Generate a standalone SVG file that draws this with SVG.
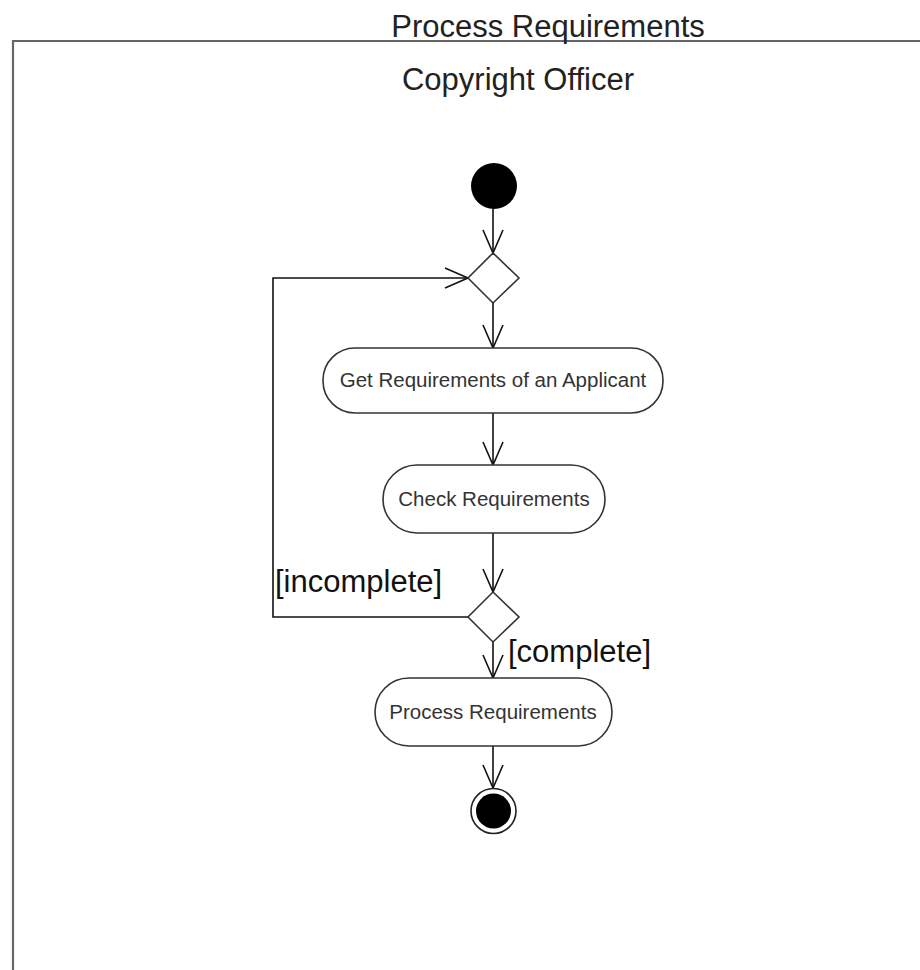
<svg xmlns="http://www.w3.org/2000/svg" width="920" height="970" viewBox="0 0 920 970">
<style>
.t{font-family:"Liberation Sans",Arial,sans-serif;fill:#222}
.big{font-size:31px}
.nt{font-size:20.5px;fill:#333}
.act{fill:#fff;stroke:#333;stroke-width:1.6}
.con{fill:none;stroke:#111;stroke-width:1.6}
</style>
<defs>
<marker id="arr" markerUnits="userSpaceOnUse" markerWidth="30" markerHeight="30" viewBox="-26 -13 30 26" refX="0" refY="0" orient="auto">
<path d="M-23,-10 L0,0 L-23,10" fill="none" stroke="#111" stroke-width="1.6"/>
</marker>
</defs>
<rect width="920" height="970" fill="#fff"/>
<g id="frame">
<path d="M13,970 L13,41 L920,41" fill="none" stroke="#666" stroke-width="2.2"/>
<text class="t big" x="548" y="37" text-anchor="middle">Process Requirements</text>
<text class="t big" x="518" y="90" text-anchor="middle">Copyright Officer</text>
</g>
<g id="connectors">
<line class="con" x1="493" y1="209" x2="493" y2="253" marker-end="url(#arr)"/>
<line class="con" x1="493" y1="302" x2="493" y2="348" marker-end="url(#arr)"/>
<line class="con" x1="493" y1="413" x2="493" y2="465" marker-end="url(#arr)"/>
<line class="con" x1="493" y1="533" x2="493" y2="592" marker-end="url(#arr)"/>
<line class="con" x1="493" y1="642" x2="493" y2="678" marker-end="url(#arr)"/>
<line class="con" x1="493" y1="746" x2="493" y2="788" marker-end="url(#arr)"/>
<path class="con" d="M468,617 L273,617 L273,278 L468,278" marker-end="url(#arr)"/>
<text class="t big" x="275" y="592" style="fill:#111">[incomplete]</text>
<text class="t big" x="508" y="662" style="fill:#111">[complete]</text>
</g>
<g id="start"><circle cx="494" cy="186" r="23" fill="#000"/></g>
<g id="merge"><polygon points="493,253 519,278 493,303 468,278" class="act"/></g>
<g id="get"><rect class="act" x="323" y="348" width="340" height="65" rx="32"/>
<text class="t nt" x="493" y="387" text-anchor="middle">Get Requirements of an Applicant</text></g>
<g id="check"><rect class="act" x="383" y="465" width="222" height="68" rx="34"/>
<text class="t nt" x="494" y="506" text-anchor="middle">Check Requirements</text></g>
<g id="decision"><polygon points="493,592 519,617 493,642 468,617" class="act"/></g>
<g id="process"><rect class="act" x="375" y="678" width="237" height="68" rx="34"/>
<text class="t nt" x="493" y="719" text-anchor="middle">Process Requirements</text></g>
<g id="end"><circle cx="493.5" cy="811" r="22.5" fill="#fff" stroke="#222" stroke-width="1.6"/><circle cx="493.5" cy="811" r="17.5" fill="#000"/></g>
</svg>
